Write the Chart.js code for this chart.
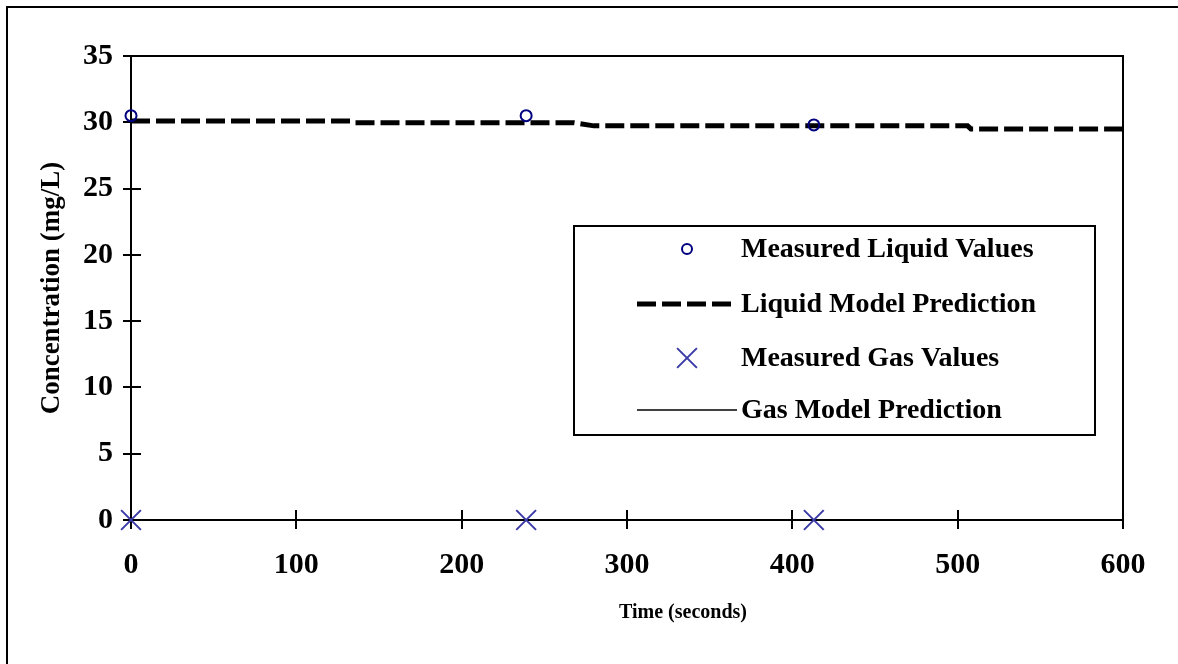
<!DOCTYPE html>
<html>
<head>
<meta charset="utf-8">
<script src="https://cdn.jsdelivr.net/npm/chart.js@4/dist/chart.umd.min.js"></script>
<style>
  html, body { margin: 0; padding: 0; background: #fff; }
  #wrap { width: 1178px; height: 664px; }
</style>
</head>
<body>
<div id="wrap"><canvas id="concChart" width="1178" height="664"></canvas></div>
<script>
// values
const liquidTimes = [0, 239, 413];
const liquidMeasured = [30.5, 30.5, 29.8];
const gasTimes = [0, 239, 413];
const gasMeasured = [0, 0, 0];
const liquidModelTimes = [0, 133, 135, 268, 280, 506, 508, 600];
const liquidModel = [30.1, 30.1, 29.96, 29.96, 29.73, 29.73, 29.5, 29.5];
const gasModelTimes = [0, 150, 300, 450, 600];
const gasModel = [0, 0, 0, 0, 0];
const xTicks = [0, 100, 200, 300, 400, 500, 600];
const yTicks = [0, 5, 10, 15, 20, 25, 30, 35];

const serif = "'Liberation Serif', 'Times New Roman', serif";

function pts(xs, ys) {
  return xs.map((x, i) => ({ x: x, y: ys[i] }));
}

// frame, crossing tick marks, axis titles, outer border and the boxed legend
const decorations = {
  id: "decorations",
  beforeDatasetsDraw(chart) {
    const ctx = chart.ctx;
    const a = chart.chartArea;
    const xs = chart.scales.x, ys = chart.scales.y;
    ctx.save();
    ctx.strokeStyle = "#000";
    ctx.lineWidth = 2;
    ctx.beginPath();
    ctx.moveTo(a.left, a.top);
    ctx.lineTo(a.right, a.top);
    ctx.lineTo(a.right, a.bottom);
    ctx.stroke();
    ctx.beginPath();
    xTicks.forEach(v => {
      const px = Math.round(xs.getPixelForValue(v));
      ctx.moveTo(px, a.bottom - 10);
      ctx.lineTo(px, a.bottom + 9);
    });
    yTicks.forEach(v => {
      const py = Math.round(ys.getPixelForValue(v));
      ctx.moveTo(a.left - 8, py);
      ctx.lineTo(a.left + 10, py);
    });
    ctx.stroke();
    ctx.restore();
  },
  afterDraw(chart) {
    const ctx = chart.ctx;
    ctx.save();
    ctx.strokeStyle = "#000";
    ctx.lineWidth = 2;
    ctx.strokeRect(7, 7, 1300, 700);

    ctx.fillStyle = "#000";
    ctx.textAlign = "center";
    ctx.textBaseline = "middle";
    ctx.font = "bold 20px " + serif;
    ctx.fillText("Time (seconds)", 683, 613);
    ctx.save();
    ctx.translate(52, 288);
    ctx.rotate(-Math.PI / 2);
    ctx.font = "bold 27px " + serif;
    ctx.fillText("Concentration (mg/L)", 0, 0);
    ctx.restore();

    // legend
    ctx.strokeRect(574, 226, 521, 209);
    const rowsY = [250, 305, 359, 411];
    const ds = chart.data.datasets;
    ctx.font = "bold 28px " + serif;
    ctx.textAlign = "left";
    ds.forEach((d, i) => {
      const y = rowsY[i];
      ctx.strokeStyle = d.borderColor;
      ctx.lineWidth = d.borderWidth;
      if (d.showLine === false) {
        ctx.fillStyle = "rgba(0,0,0,0)";
        Chart.helpers.drawPoint(ctx, {
          pointStyle: d.pointStyle,
          radius: d.legendRadius,
          borderWidth: d.borderWidth
        }, 687, y - 1);
      } else {
        ctx.setLineDash(d.borderDash || []);
        ctx.beginPath();
        ctx.moveTo(637, y - 1);
        ctx.lineTo(737, y - 1);
        ctx.stroke();
        ctx.setLineDash([]);
      }
      ctx.fillStyle = "#000";
      ctx.fillText(d.label, 741, y);
    });
    ctx.restore();
  }
};

new Chart(document.getElementById("concChart"), {
  type: "scatter",
  data: {
    datasets: [
      {
        label: "Measured Liquid Values",
        data: pts(liquidTimes, liquidMeasured),
        showLine: false,
        pointStyle: "circle",
        pointRadius: 5.5,
        legendRadius: 5,
        borderColor: "#000080",
        backgroundColor: "rgba(0,0,0,0)",
        borderWidth: 2,
        clip: false,
        order: 0
      },
      {
        label: "Liquid Model Prediction",
        data: pts(liquidModelTimes, liquidModel),
        showLine: true,
        borderColor: "#000",
        borderWidth: 5,
        borderDash: [19, 6],
        pointRadius: 0,
        tension: 0,
        clip: false,
        order: 1
      },
      {
        label: "Measured Gas Values",
        data: pts(gasTimes, gasMeasured),
        showLine: false,
        pointStyle: "crossRot",
        pointRadius: 14,
        legendRadius: 14,
        borderColor: "#3b3ba8",
        backgroundColor: "#3b3ba8",
        borderWidth: 2,
        clip: false,
        order: 0
      },
      {
        label: "Gas Model Prediction",
        data: pts(gasModelTimes, gasModel),
        showLine: true,
        borderColor: "#000",
        borderWidth: 1.5,
        pointRadius: 0,
        clip: false,
        order: 2
      }
    ]
  },
  options: {
    responsive: false,
    animation: false,
    devicePixelRatio: 1,
    layout: { padding: { left: 0, top: 56, right: 55, bottom: 0 } },
    plugins: { legend: { display: false }, tooltip: { enabled: false } },
    scales: {
      x: {
        type: "linear",
        min: 0,
        max: 600,
        afterFit(s) { s.height = 144; },
        afterBuildTicks(s) { s.ticks = xTicks.map(v => ({ value: v })); },
        grid: { display: false },
        border: { display: true, color: "#000", width: 2 },
        ticks: {
          color: "#000",
          padding: 19,
          font: { family: serif, size: 30, weight: "bold" }
        }
      },
      y: {
        type: "linear",
        min: 0,
        max: 35,
        afterFit(s) { s.width = 131; },
        afterBuildTicks(s) { s.ticks = yTicks.map(v => ({ value: v })); },
        grid: { display: false },
        border: { display: true, color: "#000", width: 2 },
        ticks: {
          color: "#000",
          padding: 10,
          font: { family: serif, size: 30, weight: "bold" }
        }
      }
    }
  },
  plugins: [decorations]
});
</script>
</body>
</html>
